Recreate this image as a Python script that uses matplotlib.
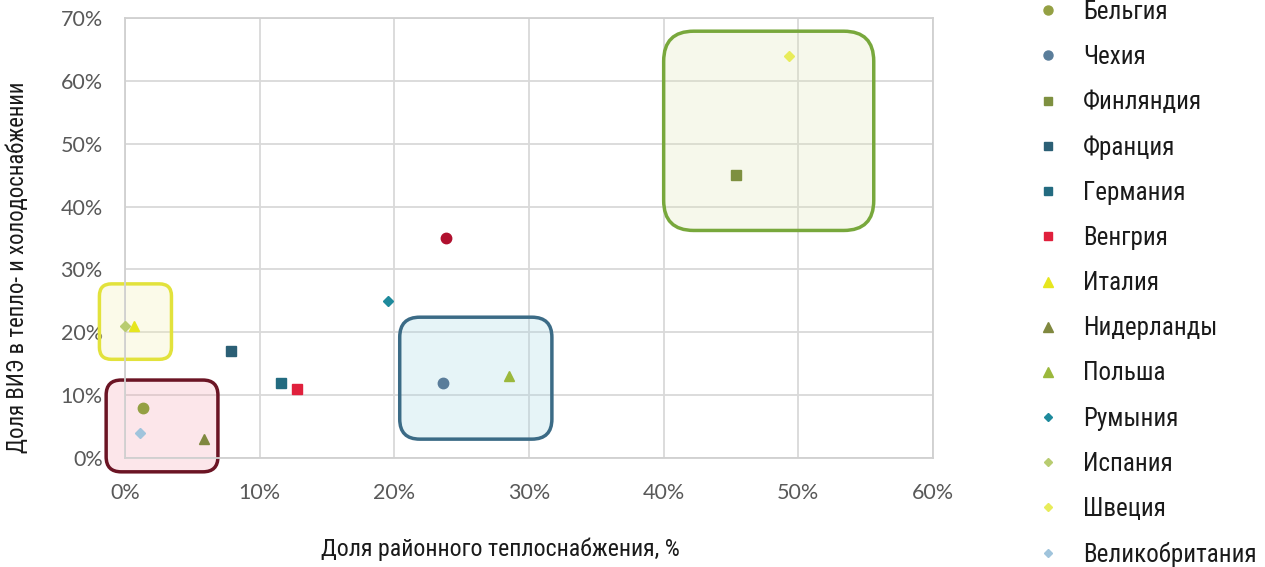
import matplotlib
matplotlib.use("Agg")
import matplotlib.pyplot as plt
from matplotlib.patches import FancyBboxPatch
from matplotlib.lines import Line2D
from matplotlib.ticker import FuncFormatter
from matplotlib import font_manager
from matplotlib.font_manager import FontProperties

# ---------------- data ----------------
countries = ["Бельгия", "Чехия", "Финляндия", "Франция", "Германия", "Венгрия",
             "Италия", "Нидерланды", "Польша", "Румыния", "Испания", "Швеция",
             "Великобритания"]
district_heating = [1.3, 23.6, 45.4, 7.9, 11.6, 12.8, 0.7, 5.9, 28.5, 19.5, 0.0, 49.3, 1.1]
res_share = [8.0, 12.0, 45.0, 17.0, 12.0, 11.0, 21.0, 3.0, 13.0, 25.0, 21.0, 64.0, 4.0]
markers = ["o", "o", "s", "s", "s", "s", "^", "^", "^", "D", "D", "D", "D"]
colors = ["#94a043", "#5a7d9a", "#7e9040", "#2b5f75", "#236b80", "#e0203c",
          "#e6e61e", "#80883f", "#9bb83c", "#1e8a9c", "#b8cc70", "#e8ec5a", "#a0c4dc"]
# point without legend entry
extra_x = [23.8]
extra_y = [35.0]
extra_color = "#b0102e"

x_ticks = [0, 10, 20, 30, 40, 50, 60]
y_ticks = [0, 10, 20, 30, 40, 50, 60, 70]

# highlighted groups: (x0, x1, y0, y1) in percent, edge, face, rounding px
groups = [
    ((-1.4, 6.9, -2.2, 12.4), "#6b1424", "#f5a8b4", 15),
    ((-1.9, 3.45, 15.7, 27.7), "#e2e23c", "#f4eeb0", 12),
    ((20.4, 31.7, 3.0, 22.4), "#3b6b86", "#a8d8e4", 20),
    ((40.0, 55.6, 36.2, 67.9), "#78a83c", "#dfe6b8", 30),
]

# ---------------- fonts ----------------
ttf = font_manager.fontManager.ttflist
avail = {f.name for f in ttf}
narrow_fp = None
for pref in ["Roboto Condensed", "Liberation Sans Narrow", "Noto Sans", "Open Sans",
             "Roboto", "DejaVu Sans"]:
    for f in ttf:
        if f.name == pref and f.style == "normal" and f.weight in (400, "normal", "regular") \
                and (pref in ("Roboto Condensed", "Liberation Sans Narrow")
                     or f.stretch in ("condensed", "semi-condensed", "extra-condensed")):
            narrow_fp = f.fname
            break
    if narrow_fp:
        break
if narrow_fp:
    def nfont(size):
        return FontProperties(fname=narrow_fp, size=size)
    scale = 1.0
else:
    def nfont(size):
        return FontProperties(family="Roboto", size=size)
    scale = 0.9
tickfont = "Lato" if "Lato" in avail else "DejaVu Sans"

W, H = 1265, 567
fig = plt.figure(figsize=(W / 100, H / 100), dpi=100)
ax = fig.add_axes([125 / W, (H - 458) / H, (933 - 125) / W, (458 - 18) / H])
ax.set_xlim(0, 60)
ax.set_ylim(0, 70)
ax.set_xticks(x_ticks)
ax.set_yticks(y_ticks)
fmt = FuncFormatter(lambda v, p: f"{v:.0f}%")
ax.xaxis.set_major_formatter(fmt)
ax.yaxis.set_major_formatter(fmt)
ax.grid(True, color="#d9d9d9", linewidth=1.3, zorder=0)
ax.set_axisbelow(True)
for s in ax.spines.values():
    s.set_color("#d0d0d0")
    s.set_linewidth(1.3)
ax.tick_params(length=0, labelsize=15.5, labelcolor="#595959")
ax.tick_params(axis="x", pad=18)
ax.tick_params(axis="y", pad=16)
for lab in ax.get_xticklabels() + ax.get_yticklabels():
    lab.set_fontfamily(tickfont)

# boxes
xpp = 60 / (933 - 125)
ypp = 70 / (458 - 18)
aspect = ypp / xpp
for (x0, x1, y0, y1), ec, fc, rpx in groups:
    r = rpx * xpp
    p = FancyBboxPatch((x0, y0), x1 - x0, y1 - y0,
                       boxstyle=f"round,pad=0,rounding_size={r}",
                       mutation_aspect=aspect,
                       facecolor=matplotlib.colors.to_rgba(fc, 0.28),
                       edgecolor=ec, linewidth=2.5, clip_on=False, zorder=1)
    ax.add_patch(p)

sizes = {"o": 7.5, "s": 7, "^": 7.5, "D": 5}
for c, xv, yv, m, col in zip(countries, district_heating, res_share, markers, colors):
    ax.plot([xv], [yv], marker=m, markersize=sizes[m], color=col, linestyle="none",
            zorder=3, clip_on=False, label=c)
ax.plot(extra_x, extra_y, marker="o", markersize=7.5, color=extra_color,
        linestyle="none", zorder=3)

# legend
handles = [Line2D([], [], marker=m, markersize=sizes[m] - 1, color=col, linestyle="none")
           for m, col in zip(markers, colors)]
leg = fig.legend(handles, countries, loc="upper left",
                 bbox_to_anchor=(1035.5 / W, 1 - 0 / H), frameon=False,
                 prop=nfont(18 * scale), labelspacing=0.845 / scale, handlelength=1.0,
                 handletextpad=0.9 / scale, borderaxespad=0, borderpad=0)
for t in leg.get_texts():
    t.set_color("#1a1a1a")

fig.text(500 / W, (H - 549) / H, "Доля районного теплоснабжения, %",
         ha="center", va="center", fontproperties=nfont(17.2 * scale), color="#1a1a1a")
fig.text(18 / W, (H - 267) / H, "Доля ВИЭ в тепло- и холодоснабжении",
         ha="center", va="center", rotation=90, fontproperties=nfont(16.4 * scale),
         color="#1a1a1a")

fig.savefig("out.png", dpi=100)
